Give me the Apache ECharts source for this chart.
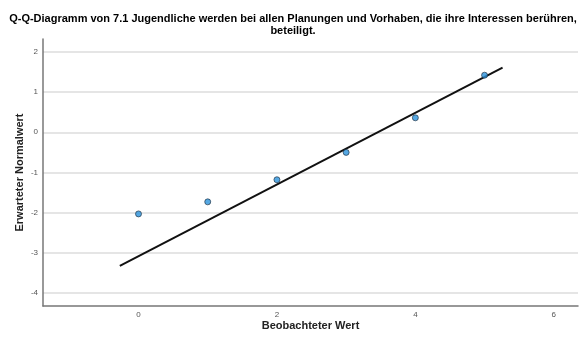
<!DOCTYPE html>
<html>
<head>
<meta charset="utf-8">
<script src="https://cdn.jsdelivr.net/npm/echarts@6/dist/echarts.min.js"></script>
<style>html,body{margin:0;padding:0;background:#fff}#c{width:579px;height:340px}</style>
</head>
<body>
<div id="c"></div>
<script>
var titleText = 'Q-Q-Diagramm von 7.1 Jugendliche werden bei allen Planungen und Vorhaben, die ihre Interessen berühren,\nbeteiligt.';
var xName = 'Beobachteter Wert';
var yName = 'Erwarteter Normalwert';
var observed = [0, 1, 2, 3, 4, 5];
var expected = [-2.03, -1.73, -1.18, -0.50, 0.36, 1.42];
var lineX = [-0.27, 5.26];
var lineY = [-3.32, 1.61];
var xTicks = [0, 2, 4, 6];
var yTicks = [-4, -3, -2, -1, 0, 1, 2];

var pts = observed.map(function (v, i) { return [v, expected[i]]; });
var linePts = lineX.map(function (v, i) { return [v, lineY[i]]; });

var chart = echarts.init(document.getElementById('c'));
chart.setOption({
  animation: false,
  title: {
    text: titleText,
    left: 288, textAlign: 'center', top: 8,
    textStyle: { fontFamily: 'Liberation Sans', fontSize: 11, fontWeight: 'bold', color: '#000', lineHeight: 12 }
  },
  grid: { left: 43, top: 39, right: 1, bottom: 34 },
  xAxis: {
    type: 'value', min: -1.38, max: 6.35,
    name: xName, nameLocation: 'middle', nameGap: 14, nameMoveOverlap: false,
    nameTextStyle: { fontFamily: 'Liberation Sans', fontSize: 11, fontWeight: 'bold', color: '#222' },
    axisLine: { show: true, onZero: false, lineStyle: { color: '#777', width: 1.5 } },
    axisTick: { show: false, customValues: xTicks },
    axisLabel: { customValues: xTicks, fontFamily: 'Liberation Sans', fontSize: 8, color: '#555', margin: 5 },
    splitLine: { show: false }
  },
  yAxis: {
    type: 'value', min: -4.32, max: 2.32,
    name: yName, nameLocation: 'middle', nameGap: 18, nameMoveOverlap: false,
    nameTextStyle: { fontFamily: 'Liberation Sans', fontSize: 11, fontWeight: 'bold', color: '#222' },
    axisLine: { show: true, onZero: false, lineStyle: { color: '#777', width: 1.5 } },
    axisTick: { show: false, customValues: yTicks },
    axisLabel: { customValues: yTicks, fontFamily: 'Liberation Sans', fontSize: 8, color: '#555', margin: 5 },
    splitLine: { show: true, lineStyle: { color: '#dcdcdc', width: 1.5 } }
  },
  series: [
    {
      type: 'line', data: linePts, symbol: 'none',
      lineStyle: { color: '#111', width: 2 }, z: 2
    },
    {
      type: 'scatter', data: pts, symbol: 'circle', symbolSize: 6,
      itemStyle: { color: '#2b92dc', borderColor: '#1a2a3a', borderWidth: 0.8 }, z: 3
    }
  ]
});
</script>
</body>
</html>
